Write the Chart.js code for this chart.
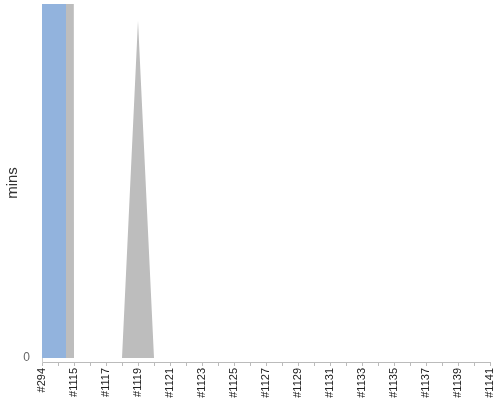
<!DOCTYPE html>
<html>
<head>
<meta charset="utf-8">
<script src="https://cdn.jsdelivr.net/npm/chart.js@4/dist/chart.umd.min.js"></script>
<style>
html,body{margin:0;padding:0;background:#fff;}
canvas{display:block;}
</style>
</head>
<body>
<canvas id="c" width="500" height="400"></canvas>
<script>
// Build labels (x categories)
const builds = ['#294','#1114','#1115','#1116','#1117','#1118','#1119','#1120','#1121','#1122','#1123','#1124','#1125','#1126','#1127','#1128','#1129','#1130','#1131','#1132','#1133','#1134','#1135','#1136','#1137','#1138','#1139','#1140','#1141'];
// Blue series (mins) - first two builds far above visible range
const blueMins = [45, 42, 0, 0, 0, 0, 0, 0, 0, 0, 0, 0, 0, 0, 0, 0, 0, 0, 0, 0, 0, 0, 0, 0, 0, 0, 0, 0, 0];
// Gray series (mins), stacked on blue
const grayMins = [3, 2, 0, 0, 0, 0, 0.5, 0, 0, 0, 0, 0, 0, 0, 0, 0, 0, 0, 0, 0, 0, 0, 0, 0, 0, 0, 0, 0, 0];
// Y tick labels shown
const yTicks = [0];

const yMax = 0.525;
const yMin = -yMax * 4 / 354;

Chart.defaults.font.family = '"Liberation Sans", Arial, sans-serif';

new Chart(document.getElementById('c'), {
  type: 'line',
  data: {
    labels: builds,
    datasets: [
      {
        label: 'blue',
        data: blueMins,
        stepped: 'middle',
        fill: 'origin',
        backgroundColor: '#92b3dd',
        borderWidth: 0,
        pointRadius: 0,
        stack: 's'
      },
      {
        label: 'gray',
        data: grayMins,
        fill: '-1',
        backgroundColor: '#bdbdbd',
        borderWidth: 0,
        pointRadius: 0,
        tension: 0,
        stack: 's'
      }
    ]
  },
  options: {
    responsive: false,
    animation: false,
    devicePixelRatio: 1,
    layout: { padding: { top: 4, right: 10, left: 0, bottom: 0 } },
    plugins: { legend: { display: false }, tooltip: { enabled: false } },
    scales: {
      x: {
        type: 'category',
        offset: false,
        grid: { display: true, drawOnChartArea: false, tickLength: 4, color: '#bbbbbb' },
        border: { display: true, color: '#bbbbbb' },
        ticks: {
          autoSkip: false,
          minRotation: 90,
          maxRotation: 90,
          padding: 2,
          color: '#222',
          font: { size: 11 },
          callback: function(v, i) { return i % 2 === 0 ? builds[i] : ''; }
        },
        afterFit: function(s) {
          s.height = 38;
          s.paddingLeft = 0; s.paddingRight = 0; s.paddingTop = 0; s.paddingBottom = 0;
        }
      },
      y: {
        stacked: true,
        min: yMin,
        max: yMax,
        grid: { display: false, drawTicks: false },
        border: { display: true, color: '#cccccc' },
        ticks: {
          padding: 12,
          color: '#666',
          font: { size: 12 }
        },
        afterBuildTicks: function(s) { s.ticks = yTicks.map(v => ({ value: v })); },
        title: {
          display: true,
          text: 'mins',
          color: '#333',
          font: { size: 15 },
          padding: { top: 4, bottom: 0 }
        },
        afterFit: function(s) {
          s.width = 42;
          s.paddingLeft = 0; s.paddingRight = 0; s.paddingTop = 0; s.paddingBottom = 0;
        }
      }
    }
  }
});
</script>
</body>
</html>
